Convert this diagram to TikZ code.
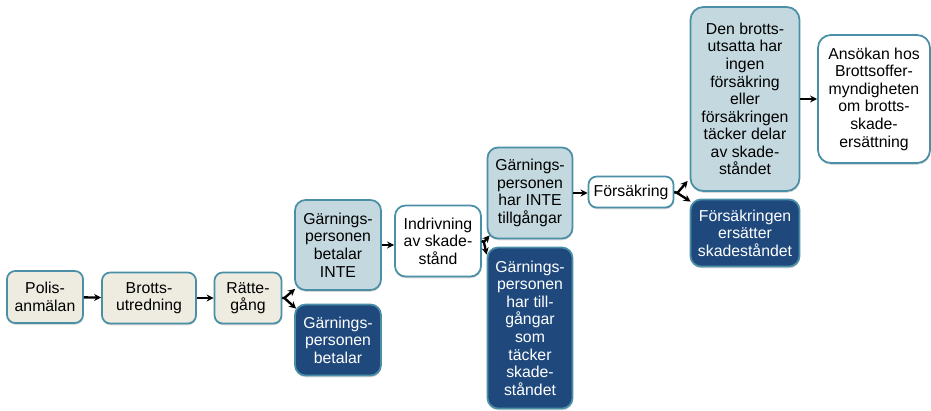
\documentclass[tikz,border=0pt]{standalone}
\usepackage{fontspec}
\setmainfont{Liberation Sans}
\usetikzlibrary{arrows.meta,shadows}
\definecolor{rim}{HTML}{4A8FA6}
\definecolor{cream}{HTML}{EEECE1}
\definecolor{pale}{HTML}{C4D9DF}
\definecolor{navy}{HTML}{1F497D}

\begin{document}
\begin{tikzpicture}[x=0.03cm, y=-0.03cm,
  box/.style={draw=rim, line width=1.5pt, rounded corners=7pt, align=center, inner sep=2pt,
    font=\fontsize{13.5}{15}\selectfont,
    drop shadow={shadow xshift=0.3pt, shadow yshift=-1.5pt, opacity=0.3}},
  tall/.style={rounded corners=9pt},
  cream/.style={box, fill=cream},
  pale/.style={box, fill=pale},
  plain/.style={box, fill=white},
  navy/.style={box, fill=navy, text=white},
  arr/.style={-{Stealth[length=6pt, width=6pt]}, line width=2pt}]

\useasboundingbox (0,0) rectangle (931,410);

\node[cream, minimum width=2.28cm, minimum height=1.56cm] (polis) at (45,297) {Polis-\\anmälan};
\node[cream, minimum width=2.82cm, minimum height=1.53cm] (brotts) at (149,298) {Brotts-\\utredning};
\node[cream, minimum width=2.01cm, minimum height=1.53cm] (ratte) at (248,298) {Rätte-\\gång};
\node[pale, tall, minimum width=2.58cm, minimum height=2.70cm] (betinte) at (338,245) {Gärnings-\\personen\\betalar\\INTE};
\node[navy, tall, minimum width=2.58cm, minimum height=2.13cm] (betalar) at (338,340) {Gärnings-\\personen\\betalar};
\node[plain, tall, minimum width=2.58cm, minimum height=2.13cm] (indriv) at (438,241) {Indrivning\\av skade-\\stånd};
\node[pale, tall, minimum width=2.55cm, minimum height=2.73cm] (harinte) at (530,193) {Gärnings-\\personen\\har INTE\\tillgångar};
\node[navy, tall, minimum width=2.55cm, minimum height=4.83cm] (hartill) at (530,328) {Gärnings-\\personen\\har till-\\gångar\\som\\täcker\\skade-\\ståndet};
\node[plain, minimum width=2.55cm, minimum height=0.93cm] (forsak) at (631,192) {Försäkring};
\node[pale, tall, rounded corners=11pt, minimum width=3.27cm, minimum height=5.52cm] (denbrott) at (745,99) {Den brotts-\\utsatta har\\ingen\\försäkring\\eller\\försäkringen\\täcker delar\\av skade-\\ståndet};
\node[navy, tall, minimum width=3.27cm, minimum height=2.01cm] (forsers) at (745,233) {Försäkringen\\ersätter\\skadeståndet};
\node[plain, tall, rounded corners=11pt, minimum width=3.36cm, minimum height=3.84cm] (ansokan) at (874,99) {Ansökan hos\\Brottsoffer-\\myndigheten\\om brotts-\\skade-\\ersättning};

\draw[arr] (polis) -- (brotts);
\draw[arr] (brotts) -- (ratte);
\draw[arr] (ratte.east) -- ++(2,0) -- ([shift={(1,-2)}]betinte.south west);
\draw[arr] (ratte.east) -- ++(2,0) -- ([shift={(2,5)}]betalar.north west);
\draw[arr] (betinte.east) -- (betinte.east -| indriv.west);
\draw[arr] (indriv.east) -- ++(2,1) -- ([shift={(3,-4)}]harinte.south west);
\draw[arr] (indriv.east) -- ++(2,1) -- ([shift={(0,8)}]hartill.north west);
\draw[arr] (harinte.east) -- (harinte.east -| forsak.west);
\draw[arr] (forsak.east) -- ++(3,1) -- ([shift={(-2,-11)}]denbrott.south west);
\draw[arr] (forsak.east) -- ++(3,1) -- ([shift={(1,3)}]forsers.north west);
\draw[arr] (denbrott) -- (ansokan);

\end{tikzpicture}
\end{document}
